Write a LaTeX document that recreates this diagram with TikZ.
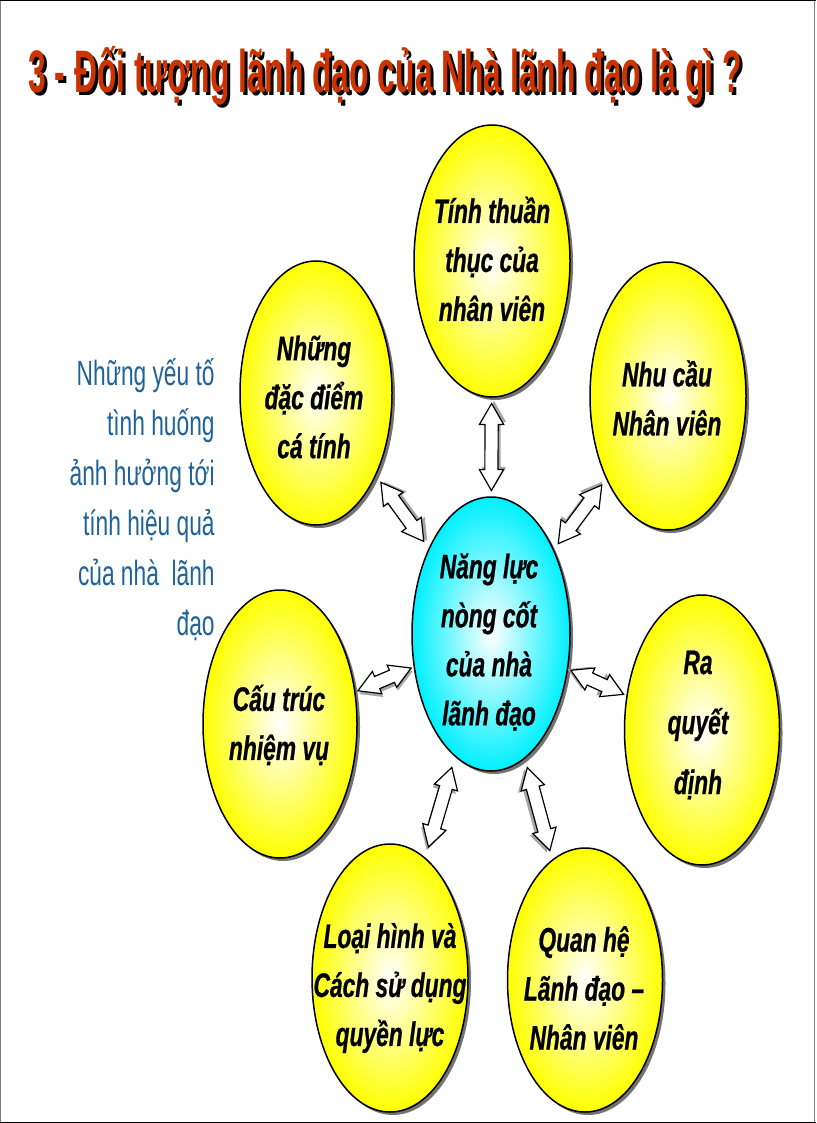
\documentclass[tikz,border=0pt]{standalone}
\usepackage{fontspec}
\setmainfont{Liberation Sans}
\newfontfamily\titlefont[FakeStretch=0.53]{Liberation Sans}
\newfontfamily\bubblefont[FakeStretch=0.67,FakeBold=0.6]{Liberation Sans}
\newfontfamily\notefont[FakeStretch=0.65]{Liberation Sans}
\usetikzlibrary{shapes.geometric,shapes.arrows,shadows,calc}
\definecolor{titlered}{RGB}{204,51,0}
\definecolor{noteblue}{RGB}{31,99,153}
\definecolor{bubbleyellow}{RGB}{255,255,0}
\definecolor{corecyan}{RGB}{0,240,255}
\tikzset{every picture/.style={line width=0.75pt}}
\tikzset{
  bubble/.style={ellipse, draw=black, line width=1.5pt, inner sep=0pt,
    inner color=white, outer color=bubbleyellow,
    drop shadow={shadow xshift=3pt, shadow yshift=-3pt, fill=black!55, opacity=1}},
  bubbletext/.style={align=center, inner sep=0pt,
    font=\bubblefont\bfseries\itshape\fontsize{34}{49}\selectfont},
  dblarrow/.style={double arrow, draw=black, line width=1.2pt, fill=white,
    inner xsep=0pt, inner ysep=6pt, minimum height=#1, minimum width=24pt,
    double arrow head extend=5.5pt, double arrow tip angle=60},
  arrowshadow/.style 2 args={drop shadow={shadow xshift=#1, shadow yshift=#2,
    fill=black!35, opacity=1}}
}

\begin{document}
\begin{tikzpicture}[x=1pt,y=1pt,yscale=-1,xscale=1]
\useasboundingbox (0,0) rectangle (816,1123);

%Frame of the slide
\draw [color=gray, line width=1pt] (0.5,0) -- (0.5,1123) ;
\draw [color=gray, line width=1pt] (814.5,0) -- (814.5,1123) ;
\draw [line width=1.5pt] (0,0.75) -- (816,0.75) ;
\draw [line width=1.5pt] (0,1122.25) -- (816,1122.25) ;

% Text Node
\draw (31,96) node [anchor=base west, inner sep=0pt, text=black, font=\titlefont\bfseries\fontsize{60}{60}\selectfont] (titleshadow) {3 - Đối tượng lãnh đạo của Nhà lãnh đạo là gì ?};
% Text Node
\draw (28,93) node [anchor=base west, inner sep=0pt, text=titlered, font=\titlefont\bfseries\fontsize{60}{60}\selectfont] (title) {3 - Đối tượng lãnh đạo của Nhà lãnh đạo là gì ?};

% Text Node
\draw (215,500) node [anchor=east, align=right, inner sep=0pt, text=noteblue, font=\notefont\fontsize{35}{50}\selectfont] (factors) {Những yếu tố\\tình huống\\ảnh hưởng tới\\tính hiệu quả\\của nhà~ lãnh\\đạo};

%Shape: Ellipse
\draw (492,261) node [bubble, minimum width=156pt, minimum height=272pt] (skill) {};
%Shape: Ellipse
\draw (316,393) node [bubble, minimum width=152pt, minimum height=264pt] (trait) {};
%Shape: Ellipse
\draw (668,396) node [bubble, minimum width=156pt, minimum height=268pt] (need) {};
%Shape: Ellipse
\draw (491,634) node [bubble, outer color=corecyan, minimum width=158pt, minimum height=274pt] (core) {};
%Shape: Ellipse
\draw (280,724) node [bubble, minimum width=154pt, minimum height=268pt] (task) {};
%Shape: Ellipse
\draw (702,730) node [bubble, minimum width=155pt, minimum height=270pt] (decide) {};
%Shape: Ellipse
\draw (390,978) node [bubble, minimum width=156pt, minimum height=268pt] (power) {};
%Shape: Ellipse
\draw (585,980) node [bubble, minimum width=155pt, minimum height=264pt] (relation) {};

%Double Arrows
\path let \p1=($(core)-(skill)$), \n1={-atan2(\y1,\x1)}, \n2={2.5*(cos(\n1)-sin(\n1))}, \n3={-2.5*(sin(\n1)+cos(\n1))} in (skill) -- (core) node [midway, dblarrow=87pt, rotate=\n1, arrowshadow={\n2}{\n3}] (askill) {};
\path let \p1=($(core)-(trait)$), \n1={-atan2(\y1,\x1)}, \n2={2.5*(cos(\n1)-sin(\n1))}, \n3={-2.5*(sin(\n1)+cos(\n1))} in (trait) -- (core) node [midway, dblarrow=73pt, rotate=\n1, arrowshadow={\n2}{\n3}] (atrait) {};
\path let \p1=($(core)-(need)$), \n1={-atan2(\y1,\x1)}, \n2={2.5*(cos(\n1)-sin(\n1))}, \n3={-2.5*(sin(\n1)+cos(\n1))} in (need) -- (core) node [midway, dblarrow=73pt, rotate=\n1, arrowshadow={\n2}{\n3}] (aneed) {};
\path let \p1=($(core)-(task)$), \n1={-atan2(\y1,\x1)}, \n2={2.5*(cos(\n1)-sin(\n1))}, \n3={-2.5*(sin(\n1)+cos(\n1))} in (task) -- (core) node [midway, dblarrow=58pt, rotate=\n1, arrowshadow={\n2}{\n3}] (atask) {};
\path let \p1=($(core)-(decide)$), \n1={-atan2(\y1,\x1)}, \n2={2.5*(cos(\n1)-sin(\n1))}, \n3={-2.5*(sin(\n1)+cos(\n1))} in (decide) -- (core) node [midway, dblarrow=58pt, rotate=\n1, arrowshadow={\n2}{\n3}] (adecide) {};
\path let \p1=($(core)-(power)$), \n1={-atan2(\y1,\x1)}, \n2={2.5*(cos(\n1)-sin(\n1))}, \n3={-2.5*(sin(\n1)+cos(\n1))} in (power) -- (core) node [midway, dblarrow=83pt, rotate=\n1, arrowshadow={\n2}{\n3}] (apower) {};
\path let \p1=($(core)-(relation)$), \n1={-atan2(\y1,\x1)}, \n2={2.5*(cos(\n1)-sin(\n1))}, \n3={-2.5*(sin(\n1)+cos(\n1))} in (relation) -- (core) node [midway, dblarrow=86pt, rotate=\n1, arrowshadow={\n2}{\n3}] (arelation) {};

% Text Node
\draw (492,259) node [bubbletext] (skilltext) {Tính thuần\\thục của\\nhân viên};
% Text Node
\draw (314,397) node [bubbletext] (traittext) {Những\\đặc điểm\\cá tính};
% Text Node
\draw (667,398) node [bubbletext] (needtext) {Nhu cầu\\Nhân viên};
% Text Node
\draw (489,642) node [bubbletext] (coretext) {Năng lực\\nòng cốt\\của nhà\\lãnh đạo};
% Text Node
\draw (279,725) node [bubbletext] (tasktext) {Cấu trúc\\nhiệm vụ};
% Text Node
\draw (698,725) node [bubbletext, font=\bubblefont\bfseries\itshape\fontsize{34}{60}\selectfont] (decidetext) {Ra\\quyết\\định};
% Text Node
\draw (390,988) node [bubbletext] (powertext) {Loại hình và\\Cách sử dụng\\quyền lực};
% Text Node
\draw (584,988) node [bubbletext] (relationtext) {Quan hệ\\Lãnh đạo –\\Nhân viên};

\end{tikzpicture}
\end{document}
